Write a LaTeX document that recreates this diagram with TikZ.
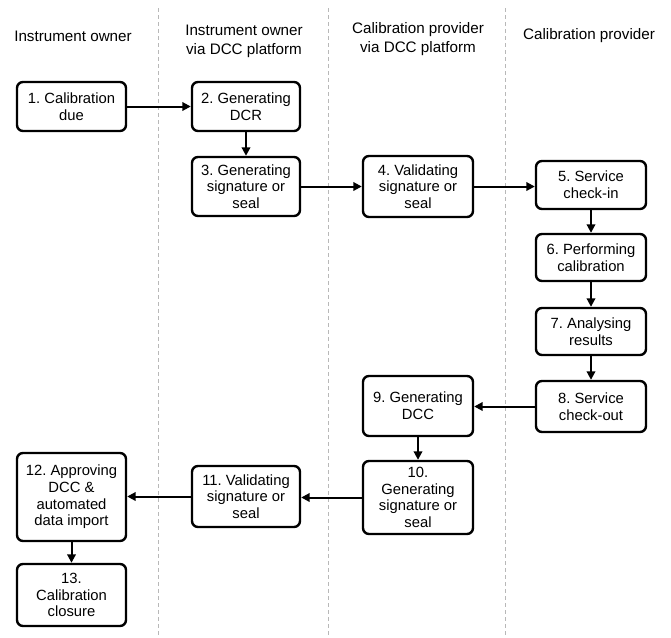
\documentclass[tikz,border=0pt]{standalone}
\usepackage{fontspec}
\setmainfont{Liberation Sans}
\usetikzlibrary{arrows.meta}
\begin{document}
\frenchspacing
\begin{tikzpicture}[x=1pt,y=-1pt,
  stepbox/.style={draw=black, line width=2.4pt, rounded corners=6pt, fill=white,
    align=center, inner sep=0pt, font=\fontsize{14.8}{16.6}\selectfont},
  header/.style={align=center, inner sep=0pt, font=\fontsize{15.2}{19}\selectfont},
  flow/.style={line width=2pt, -{Triangle[length=8.5pt,width=8.5pt]}},
  lane/.style={draw=black!28, line width=1pt, dash pattern=on 4pt off 3pt}]
\useasboundingbox (0,0) rectangle (671,637);

% swimlane separators
\coordinate (l1t) at (158,8);   \coordinate (l1b) at (158,637);
\coordinate (l2t) at (328,8);   \coordinate (l2b) at (328,637);
\coordinate (l3t) at (505,8);   \coordinate (l3b) at (505,637);
\draw[lane] (l1t) -- (l1b);
\draw[lane] (l2t) -- (l2b);
\draw[lane] (l3t) -- (l3b);

% lane titles
\node[header] (h1) at (73,36) {Instrument owner};
\node[header] (h2) at (244,41) {Instrument owner\\via DCC platform};
\node[header] (h3) at (418,39.5) {Calibration provider\\via DCC platform};
\node[header] (h4) at (589,36) {Calibration provider};

% process steps
\node[stepbox, minimum width=109pt, minimum height=49pt] (s1) at (71.5,106.5) {1. Calibration\\due};
\node[stepbox, minimum width=108pt, minimum height=49pt] (s2) at (246,106.5) {2. Generating\\DCR};
\node[stepbox, minimum width=108pt, minimum height=59pt] (s3) at (246,186.5) {3. Generating\\signature or\\seal};
\node[stepbox, minimum width=110pt, minimum height=61pt] (s4) at (418,186.5) {4. Validating\\signature or\\seal};
\node[stepbox, minimum width=110pt, minimum height=48pt] (s5) at (591,185) {5. Service\\check-in};
\node[stepbox, minimum width=110pt, minimum height=47pt] (s6) at (591,257.5) {6. Performing\\calibration};
\node[stepbox, minimum width=110pt, minimum height=47pt] (s7) at (591,331.5) {7. Analysing\\results};
\node[stepbox, minimum width=110pt, minimum height=51pt] (s8) at (591,406.5) {8. Service\\check-out};
\node[stepbox, minimum width=110pt, minimum height=60pt] (s9) at (418,406) {9. Generating\\DCC};
\node[stepbox, minimum width=110pt, minimum height=73pt] (s10) at (418,497.5) {10.\\Generating\\signature or\\seal};
\node[stepbox, minimum width=108pt, minimum height=61pt] (s11) at (246,496.5) {11. Validating\\signature or\\seal};
\node[stepbox, minimum width=109pt, minimum height=88pt] (s12) at (71.5,497) {12. Approving\\DCC \&\\automated\\data import};
\node[stepbox, minimum width=109pt, minimum height=62pt] (s13) at (71.5,595) {13.\\Calibration\\closure};

% connectors
\draw[flow] (s1) -- (s2);
\draw[flow] (s2) -- (s3);
\draw[flow] (s3) -- (s4);
\draw[flow] (s4.east) -- (s4.east -| s5.west);
\draw[flow] (s5) -- (s6);
\draw[flow] (s6) -- (s7);
\draw[flow] (s7) -- (s8);
\draw[flow] (s8.west) -- (s8.west -| s9.east);
\draw[flow] (s9) -- (s10);
\draw[flow] (s10.west) -- (s10.west -| s11.east);
\draw[flow] (s11.west) -- (s11.west -| s12.east);
\draw[flow] (s12.south -| s13.north) -- (s13.north);
\end{tikzpicture}
\end{document}
